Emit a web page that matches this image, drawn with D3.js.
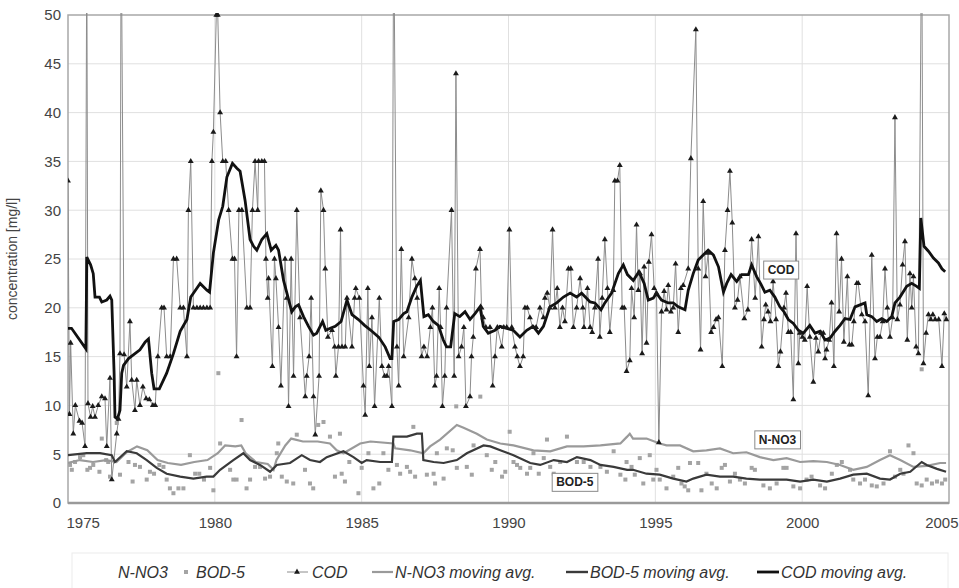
<!DOCTYPE html>
<html lang="en">
<head>
<meta charset="UTF-8">
<title>Concentration 1975-2005</title>
<style>
  body { margin: 0; background: #fff; }
  svg { font-family: "Liberation Sans", Arial, sans-serif; }
  .grid line { stroke: #e0e0e0; stroke-width: 1; }
  .axis text { fill: #444; font-size: 15px; }
  .cod-line { fill: none; stroke: #8c8c8c; stroke-width: 1; }
  .no3-avg { fill: none; stroke: #9a9a9a; stroke-width: 2.2; }
  .bod-avg { fill: none; stroke: #3a3a3a; stroke-width: 2.2; }
  .cod-avg { fill: none; stroke: #111; stroke-width: 2.8; }
  .note rect { fill: #fff; stroke: #8a8a8a; stroke-width: 1; }
  .note text { font-size: 12px; font-weight: bold; fill: #222; }
  .legend text { font-size: 16px; font-style: italic; fill: #333; }
</style>
</head>
<body>
<svg width="959" height="588"></svg>
<script src="https://d3js.org/d3.v7.min.js"></script>
<script>
// COD measurements [year, mg/l]
const codData = [
  [1975.00,33],[1975.05,9.1],[1975.09,16.4],[1975.18,7.1],[1975.25,10],[1975.39,8.4],[1975.48,8.2],[1975.58,5.8],
  [1975.64,58],[1975.68,10.2],[1975.77,8.8],[1975.84,9.9],[1975.92,8.8],[1976.03,10],[1976.15,10.9],[1976.26,10.7],
  [1976.32,5.8],[1976.43,12.8],[1976.49,2.4],[1976.66,7.1],[1976.72,8.6],[1976.77,15.3],[1976.81,60],[1976.91,15.2],
  [1977.00,11.9],[1977.11,18.6],[1977.17,12.6],[1977.28,9.5],[1977.34,12.6],[1977.45,10],[1977.55,11.9],[1977.66,10.7],
  [1977.77,10.6],[1977.89,10],[1977.97,10],[1978.06,15],[1978.19,20],[1978.27,20],[1978.36,15],[1978.48,15],
  [1978.59,25],[1978.70,25],[1978.82,20],[1978.93,20],[1979.05,15],[1979.10,30],[1979.18,35],[1979.27,20],
  [1979.39,20],[1979.50,20],[1979.61,20],[1979.73,20],[1979.84,20],[1979.90,35],[1979.95,38],[1980.05,50],
  [1980.10,50],[1980.18,40],[1980.27,35],[1980.37,35],[1980.47,30],[1980.60,25],[1980.67,25],[1980.74,15],
  [1980.82,30],[1980.92,30],[1981.09,20],[1981.20,20],[1981.28,30],[1981.37,35],[1981.46,30],[1981.49,35],
  [1981.60,35],[1981.69,35],[1981.74,25],[1981.80,21],[1981.83,23],[1981.96,14],[1982.03,25],[1982.08,23],
  [1982.17,18],[1982.25,12],[1982.39,25],[1982.45,21],[1982.51,9.9],[1982.60,25],[1982.68,13],[1982.79,30],
  [1982.90,19],[1983.08,10.9],[1983.13,13],[1983.21,15],[1983.28,21],[1983.36,10.9],[1983.42,7],[1983.55,13],
  [1983.61,32],[1983.70,30],[1983.76,24],[1983.85,17],[1983.99,17.7],[1984.08,16],[1984.12,13],[1984.21,16],
  [1984.28,28],[1984.33,16],[1984.44,16],[1984.50,21],[1984.67,16],[1984.76,21],[1984.80,22],[1984.92,21],
  [1985.06,12],[1985.12,9],[1985.21,22],[1985.26,14],[1985.35,19],[1985.44,9.9],[1985.60,21],[1985.69,14],
  [1985.78,13],[1985.86,13],[1985.92,14],[1986.03,9.9],[1986.09,60],[1986.20,16],[1986.26,12],[1986.35,26],
  [1986.43,15],[1986.60,19],[1986.71,25],[1986.81,23],[1986.89,21],[1987.04,15],[1987.12,16],[1987.23,15],
  [1987.34,18],[1987.41,20],[1987.49,12],[1987.55,13],[1987.64,22],[1987.69,18],[1987.75,9.9],[1987.83,13],
  [1987.89,20],[1988.06,30],[1988.15,13],[1988.21,44],[1988.30,15],[1988.40,16],[1988.48,18],[1988.55,9.9],
  [1988.69,10.9],[1988.74,15],[1988.80,17],[1988.89,24],[1989.03,26],[1989.08,20],[1989.14,19],[1989.23,18],
  [1989.37,18],[1989.46,12],[1989.54,15],[1989.62,18],[1989.77,16],[1989.84,18],[1989.94,18],[1990.03,28],
  [1990.11,18],[1990.22,16],[1990.30,15],[1990.39,14],[1990.50,15],[1990.56,20],[1990.64,20],[1990.73,19],
  [1990.82,18],[1990.94,18],[1991.07,20],[1991.19,19],[1991.24,21],[1991.32,21.5],[1991.41,20],[1991.50,28],
  [1991.58,20],[1991.66,22],[1991.75,18],[1991.84,20],[1991.92,18.6],[1992.04,24],[1992.12,24],[1992.21,18],
  [1992.32,20],[1992.44,23],[1992.53,20],[1992.57,18],[1992.69,22],[1992.78,18],[1992.85,17.5],[1992.94,20],
  [1993.05,25],[1993.11,17],[1993.19,21],[1993.28,27],[1993.37,22],[1993.45,17.5],[1993.57,21.8],[1993.62,33],
  [1993.71,33],[1993.79,34.6],[1993.87,20],[1993.94,20],[1994.02,13.5],[1994.13,14.6],[1994.19,22],[1994.28,19],
  [1994.36,28.5],[1994.42,21.8],[1994.48,23.5],[1994.55,15.3],[1994.62,24.2],[1994.70,16.4],[1994.78,24.7],[1994.87,27.5],
  [1994.96,22],[1995.04,21.5],[1995.12,6.2],[1995.21,19.6],[1995.30,21.7],[1995.38,19.8],[1995.44,22.3],[1995.53,19.6],
  [1995.61,20],[1995.69,24.5],[1995.78,17.5],[1995.87,22],[1995.95,22.3],[1996.12,24],[1996.21,35.3],[1996.38,48.5],
  [1996.46,24],[1996.54,15.7],[1996.63,30.9],[1996.71,23.2],[1996.80,25.6],[1996.90,17.5],[1996.98,18],[1997.07,18.8],
  [1997.15,19],[1997.28,14],[1997.37,25.9],[1997.46,30],[1997.54,34],[1997.62,28.7],[1997.71,20],[1997.80,20.8],
  [1997.88,23.2],[1998.03,18.9],[1998.15,19.8],[1998.28,27],[1998.40,21],[1998.51,27.3],[1998.62,16],[1998.70,18.8],
  [1998.76,20.3],[1998.84,19.6],[1998.92,18.6],[1999.01,22.7],[1999.11,18.8],[1999.19,14],[1999.26,15.5],[1999.38,20],
  [1999.45,21.5],[1999.53,17.5],[1999.61,17.5],[1999.70,10.6],[1999.79,27.6],[1999.87,14.3],[1999.92,17.4],[2000.01,17],
  [2000.09,16.7],[2000.17,22.2],[2000.26,17],[2000.38,12.4],[2000.47,16.9],[2000.55,15.5],[2000.64,17.4],[2000.72,17.4],
  [2000.78,14.8],[2000.83,15.7],[2000.92,16.7],[2001.00,20.5],[2001.08,14],[2001.17,27.6],[2001.26,19.6],[2001.34,25],
  [2001.42,16.5],[2001.54,23.2],[2001.61,16.2],[2001.69,16.2],[2001.76,18.6],[2001.86,22.5],[2001.91,22.5],[2002.03,19.3],
  [2002.14,18.6],[2002.25,11],[2002.37,25.4],[2002.48,14.8],[2002.56,17],[2002.65,17],[2002.74,18.6],[2002.82,24],
  [2002.90,20],[2002.99,17],[2003.08,19],[2003.16,39.5],[2003.24,18.8],[2003.33,20.3],[2003.42,24.4],[2003.50,26.8],
  [2003.58,16.7],[2003.67,23.5],[2003.73,20],[2003.79,23.2],[2003.88,16],[2003.96,15.3],[2004.07,60],[2004.13,14.3],
  [2004.22,17.4],[2004.30,19.3],[2004.38,18.8],[2004.45,19.3],[2004.53,18.8],[2004.65,18.8],[2004.76,14],[2004.84,19.4],
  [2004.91,18.8]
];

// BOD-5 measurements [year, mg/l]
const bodData = [
  [1975.07,3.9],[1975.13,3.4],[1975.24,4.2],[1975.41,4.7],[1975.52,4.9],[1975.66,3.4],[1975.75,3.6],[1975.86,3.9],
  [1976.07,3.2],[1976.15,6.6],[1976.30,4.4],[1976.37,4.2],[1976.43,2.7],[1976.66,8.2],[1976.77,2.9],[1977.06,4.2],
  [1977.20,2.2],[1977.28,3.9],[1977.45,3.7],[1977.68,2.4],[1977.79,3.2],[1977.93,3.0],[1978.11,3.9],[1978.25,3.7],
  [1978.36,2.4],[1978.47,1.5],[1978.59,1.0],[1978.76,1.5],[1978.93,1.5],[1979.15,4.9],[1979.33,3.0],[1979.47,3.0],
  [1979.63,2.4],[1979.84,3.6],[1979.95,1.3],[1980.12,13.3],[1980.18,6.1],[1980.52,3.4],[1980.63,2.4],[1980.74,2.4],
  [1980.91,8.5],[1981.08,1.5],[1981.20,2.4],[1981.37,3.7],[1981.54,3.7],[1981.71,2.5],[1981.88,2.7],[1982.11,5.1],
  [1982.16,6.1],[1982.28,2.7],[1982.45,2.2],[1982.67,2.0],[1982.79,7.0],[1983.07,3.4],[1983.24,2.0],[1983.35,1.5],
  [1983.52,8.0],[1983.70,8.3],[1983.92,6.8],[1984.09,2.7],[1984.26,7.1],[1984.32,3.0],[1984.43,2.2],[1984.58,4.2],
  [1984.89,1.0],[1985.00,3.6],[1985.23,5.1],[1985.40,1.5],[1985.60,2.0],[1985.74,5.1],[1985.91,3.4],[1986.20,3.9],
  [1986.31,3.0],[1986.54,3.7],[1986.65,3.2],[1986.76,7.8],[1986.82,2.7],[1987.22,2.9],[1987.45,3.0],[1987.50,2.0],
  [1987.56,5.1],[1987.79,2.5],[1987.90,5.6],[1988.10,5.4],[1988.22,9.9],[1988.24,3.6],[1988.58,3.7],[1988.75,2.9],
  [1988.81,5.9],[1989.04,10.9],[1989.26,4.9],[1989.43,3.4],[1989.55,4.2],[1989.78,2.7],[1989.89,3.2],[1990.04,7.3],
  [1990.17,4.2],[1990.29,3.9],[1990.40,3.6],[1990.63,3.0],[1990.74,3.6],[1990.85,5.1],[1991.03,3.0],[1991.20,4.6],
  [1991.31,6.5],[1991.42,3.7],[1991.54,3.0],[1991.76,4.2],[1991.99,6.8],[1992.33,4.2],[1992.56,4.2],[1992.79,3.7],
  [1993.13,3.7],[1993.35,3.2],[1993.58,5.3],[1993.81,2.9],[1993.98,2.4],[1994.02,4.2],[1994.19,3.7],[1994.30,2.9],
  [1994.47,4.6],[1994.59,2.0],[1994.81,4.9],[1994.93,2.4],[1995.04,3.4],[1995.15,2.4],[1995.38,1.5],[1995.61,2.7],
  [1995.78,3.6],[1995.89,2.0],[1996.00,1.7],[1996.12,1.3],[1996.18,4.1],[1996.46,4.1],[1996.57,1.3],[1996.74,3.0],
  [1996.92,2.0],[1997.09,1.5],[1997.26,3.6],[1997.37,3.9],[1997.54,2.2],[1997.71,3.0],[1997.88,2.4],[1998.05,2.0],
  [1998.28,3.6],[1998.39,3.4],[1998.68,1.8],[1998.90,1.5],[1999.13,2.0],[1999.36,3.6],[1999.47,3.6],[1999.70,1.7],
  [1999.93,1.5],[2000.15,2.4],[2000.32,2.7],[2000.61,1.8],[2000.78,1.5],[2001.01,3.0],[2001.18,3.9],[2001.35,4.2],
  [2001.63,3.4],[2001.74,2.4],[2001.97,2.0],[2002.14,2.4],[2002.37,1.8],[2002.54,1.7],[2002.77,2.0],[2002.99,5.3],
  [2003.16,2.7],[2003.34,3.4],[2003.45,3.0],[2003.62,5.9],[2003.79,5.1],[2003.90,2.0],[2004.07,13.7],[2004.07,1.8],
  [2004.24,2.4],[2004.42,2.0],[2004.59,2.2],[2004.76,2.0],[2004.87,2.4]
];

// moving averages [year, mg/l]
const no3Avg = [
  [1975.0,4.1],[1975.4,4.4],[1975.85,4.2],[1976.3,4.4],[1976.65,4.2],[1977.0,5.2],[1977.35,5.8],[1977.7,5.4],
  [1978.05,4.4],[1978.4,4.1],[1978.85,3.9],[1979.3,4.2],[1979.75,4.4],[1980.1,5.1],[1980.35,5.9],[1980.7,5.8],
  [1980.9,5.9],[1981.05,5.1],[1981.4,4.2],[1981.8,4.0],[1982.0,3.4],[1982.1,4.4],[1982.4,5.9],[1982.6,6.6],
  [1983.0,6.3],[1983.5,6.3],[1983.92,6.1],[1984.15,5.4],[1984.38,5.1],[1984.95,6.1],[1985.3,6.3],[1986.08,6.1],
  [1986.14,5.6],[1986.65,5.4],[1987.1,5.1],[1987.33,5.8],[1987.67,6.5],[1988.24,8.0],[1988.47,7.7],[1988.92,7.1],
  [1989.26,6.5],[1989.72,6.1],[1990.17,5.9],[1990.85,5.4],[1991.42,5.3],[1991.99,5.8],[1992.56,5.8],[1993.13,5.9],
  [1993.81,6.1],[1994.04,6.8],[1994.13,7.1],[1994.24,6.6],[1994.7,6.6],[1995.15,6.1],[1995.38,5.9],[1995.84,5.9],
  [1996.29,5.3],[1996.74,5.4],[1997.2,5.6],[1997.65,5.1],[1998.1,5.2],[1998.56,4.7],[1999.02,4.4],[1999.47,4.6],
  [1999.93,4.2],[2000.38,4.3],[2000.84,4.2],[2001.29,3.9],[2001.74,3.4],[2002.2,3.7],[2002.65,4.4],[2002.99,4.9],
  [2003.34,4.4],[2003.79,3.7],[2004.24,3.8],[2004.7,4.1],[2004.9,4.1]
];

const bodAvg = [
  [1975.0,4.9],[1975.64,5.1],[1976.09,5.1],[1976.49,4.9],[1976.6,4.2],[1977.0,5.3],[1977.34,5.1],[1977.68,4.4],
  [1978.02,3.6],[1978.36,3.0],[1978.82,2.7],[1979.27,2.5],[1979.72,2.7],[1979.95,2.7],[1980.18,3.4],[1980.63,4.4],
  [1980.97,5.1],[1981.2,4.4],[1981.54,3.9],[1981.88,3.2],[1982.11,3.9],[1982.56,4.1],[1982.96,4.9],[1983.24,4.4],
  [1983.58,4.2],[1983.81,4.7],[1984.38,5.3],[1984.72,4.7],[1985.0,4.1],[1985.17,4.4],[1985.63,4.2],[1986.03,4.2],
  [1986.08,6.8],[1986.54,6.8],[1986.88,7.1],[1987.05,7.1],[1987.1,4.4],[1987.45,4.2],[1987.79,4.1],[1988.24,4.4],
  [1988.58,5.1],[1989.15,5.9],[1989.38,5.8],[1989.72,5.4],[1990.17,4.9],[1990.74,4.1],[1991.08,3.9],[1991.54,4.4],
  [1991.99,4.2],[1992.33,4.7],[1992.79,4.4],[1993.13,3.9],[1993.58,3.7],[1994.04,3.4],[1994.24,3.4],[1994.7,3.0],
  [1995.15,2.9],[1995.61,2.5],[1996.06,2.2],[1996.29,2.5],[1996.74,2.9],[1997.2,2.7],[1997.65,2.7],[1998.1,2.5],
  [1998.56,2.4],[1999.02,2.4],[1999.47,2.4],[1999.93,2.2],[2000.38,2.4],[2000.84,2.2],[2001.29,2.5],[2001.74,2.9],
  [2002.2,3.0],[2002.65,2.5],[2002.99,2.4],[2003.34,3.0],[2003.68,3.2],[2004.07,4.2],[2004.24,3.9],[2004.59,3.5],
  [2004.9,3.2]
];

const codAvg = [
  [1975.0,17.9],[1975.12,17.9],[1975.61,15.8],[1975.64,25.2],[1975.77,24.4],[1975.86,23.5],[1975.92,21.1],[1976.07,21.1],
  [1976.15,20.6],[1976.32,20.8],[1976.43,21.2],[1976.49,20.8],[1976.57,13.3],[1976.6,8.8],[1976.68,8.6],[1976.77,9.5],
  [1976.83,13.3],[1976.89,14.1],[1977.06,14.8],[1977.28,15.3],[1977.45,15.7],[1977.63,16.5],[1977.74,16.8],[1977.85,13.3],
  [1977.93,11.7],[1978.11,11.7],[1978.36,13.3],[1978.59,15.3],[1978.82,17.6],[1979.05,18.8],[1979.18,21.1],[1979.27,21.5],
  [1979.5,22.5],[1979.73,21.8],[1979.82,21.6],[1979.95,25.6],[1980.13,29.0],[1980.27,30.4],[1980.41,33.4],[1980.6,34.8],
  [1980.75,34.3],[1980.86,34.0],[1981.03,31.0],[1981.2,27.0],[1981.32,26.3],[1981.43,25.9],[1981.6,27.0],[1981.77,27.6],
  [1981.92,25.9],[1982.08,26.4],[1982.17,25.9],[1982.34,22.8],[1982.49,21.1],[1982.62,19.6],[1982.74,20.1],[1982.85,20.3],
  [1983.02,19.1],[1983.19,18.1],[1983.36,17.2],[1983.47,17.4],[1983.67,18.6],[1983.78,17.7],[1983.93,17.9],[1984.1,18.1],
  [1984.3,18.6],[1984.5,20.8],[1984.67,19.3],[1984.89,18.8],[1985.1,18.2],[1985.35,17.6],[1985.58,17.0],[1985.8,16.0],
  [1985.97,14.8],[1986.03,14.8],[1986.09,18.6],[1986.26,18.8],[1986.43,19.4],[1986.54,19.6],[1986.71,21.1],[1986.87,22.2],
  [1987.0,22.8],[1987.12,19.1],[1987.27,19.3],[1987.44,18.6],[1987.61,18.2],[1987.78,16.7],[1987.89,16.0],[1988.03,16.0],
  [1988.17,19.4],[1988.34,19.1],[1988.52,19.6],[1988.69,18.8],[1988.86,19.4],[1989.03,20.1],[1989.14,18.1],[1989.31,17.4],
  [1989.54,17.7],[1989.71,18.1],[1989.94,17.9],[1990.16,17.7],[1990.39,17.0],[1990.62,17.7],[1990.84,18.1],[1991.02,17.4],
  [1991.19,18.1],[1991.41,20.1],[1991.64,20.5],[1991.87,21.1],[1992.1,21.5],[1992.32,21.1],[1992.49,21.5],[1992.78,20.6],
  [1992.94,20.5],[1993.15,19.8],[1993.28,20.5],[1993.51,21.5],[1993.74,23.5],[1993.91,24.4],[1994.05,23.4],[1994.25,22.8],
  [1994.44,23.7],[1994.62,22.5],[1994.76,20.8],[1994.93,21.0],[1995.04,21.5],[1995.21,20.8],[1995.44,20.5],[1995.61,20.5],
  [1995.78,20.1],[1996.01,19.8],[1996.12,21.8],[1996.29,23.5],[1996.46,24.9],[1996.63,25.4],[1996.8,25.9],[1996.98,25.4],
  [1997.15,24.2],[1997.32,21.6],[1997.43,22.5],[1997.58,23.4],[1997.77,22.7],[1997.94,23.4],[1998.17,23.4],[1998.28,24.4],
  [1998.45,23.2],[1998.6,22.4],[1998.73,21.6],[1998.9,21.8],[1999.07,21.1],[1999.24,20.1],[1999.38,19.6],[1999.53,18.8],
  [1999.7,18.4],[1999.87,17.7],[2000.04,17.4],[2000.26,18.2],[2000.44,17.4],[2000.61,17.6],[2000.78,16.7],[2000.95,16.9],
  [2001.12,17.6],[2001.29,18.2],[2001.46,18.9],[2001.63,18.8],[2001.8,20.1],[2001.97,20.3],[2002.14,20.5],[2002.2,19.3],
  [2002.37,19.1],[2002.54,18.6],[2002.71,18.9],[2002.88,18.6],[2003.05,19.1],[2003.16,20.5],[2003.33,21.1],[2003.56,22.2],
  [2003.73,22.5],[2003.9,22.2],[2003.99,22.0],[2004.04,29.2],[2004.15,26.3],[2004.3,25.8],[2004.47,25.1],[2004.64,24.6],
  [2004.76,24.0],[2004.87,23.7]
];

const yTicks = [0, 5, 10, 15, 20, 25, 30, 35, 40, 45, 50];
const xTicks = [1975, 1980, 1985, 1990, 1995, 2000, 2005];
const gridYears = [1980, 1985, 1990, 1995, 2000];
const legendLabels = ["N-NO3", "BOD-5", "COD", "N-NO3 moving avg.", "BOD-5 moving avg.", "COD moving avg."];
const notes = [
  { text: "COD", year: 1999.28, value: 23.9 },
  { text: "N-NO3", year: 1999.16, value: 6.5 },
  { text: "BOD-5", year: 1992.26, value: 2.15 }
];

const plotLeft = 68, plotRight = 949, plotTop = 15, plotBottom = 503;
const svg = d3.select("svg");

const x = d3.scaleLinear().domain([1975, 2005]).range([plotLeft, plotRight]);
const y = d3.scaleLinear().domain([0, 50]).range([plotBottom, plotTop]);

// grid
const grid = svg.append("g").attr("class", "grid");
grid.selectAll(".gy")
  .data(yTicks.filter(d => d > 0 && d < 50))
  .enter().append("line")
  .attr("x1", plotLeft).attr("x2", plotRight)
  .attr("y1", d => y(d)).attr("y2", d => y(d));
grid.selectAll(".gx")
  .data(gridYears)
  .enter().append("line")
  .attr("x1", d => x(d)).attr("x2", d => x(d))
  .attr("y1", plotTop).attr("y2", plotBottom);

// frame
svg.append("rect")
  .attr("x", plotLeft).attr("y", plotTop)
  .attr("width", plotRight - plotLeft).attr("height", plotBottom - plotTop)
  .attr("fill", "none").attr("stroke", "#a8a8a8").attr("stroke-width", 1.5);

// axes
const yAxis = svg.append("g").attr("class", "axis")
  .attr("transform", `translate(${plotLeft},0)`)
  .call(d3.axisLeft(y).tickValues(yTicks).tickSize(0).tickPadding(7));
yAxis.select(".domain").remove();

const xAxis = svg.append("g").attr("class", "axis")
  .attr("transform", `translate(0,${plotBottom})`)
  .call(d3.axisBottom(x).tickValues(xTicks).tickFormat(d3.format("d")).tickSize(0).tickPadding(14));
xAxis.select(".domain").remove();
xAxis.selectAll(".tick text").filter(d => d === 1975).attr("text-anchor", "start").attr("dx", -2);
// last label pushed to the right edge of the picture, as in the original
xAxis.selectAll(".tick text").filter(d => d === 2005).attr("text-anchor", "end").attr("dx", 958 - plotRight);

svg.append("line")
  .attr("x1", plotLeft).attr("x2", plotRight)
  .attr("y1", plotBottom).attr("y2", plotBottom)
  .attr("stroke", "#9a9a9a").attr("stroke-width", 2.5);

svg.append("text")
  .attr("transform", `translate(17,${(plotTop + plotBottom) / 2}) rotate(-90)`)
  .attr("text-anchor", "middle")
  .attr("font-size", 14).attr("fill", "#444")
  .text("concentration [mg/l]");

// data
svg.append("clipPath").attr("id", "plot")
  .append("rect").attr("x", plotLeft).attr("y", plotTop - 2)
  .attr("width", plotRight - plotLeft).attr("height", plotBottom - plotTop + 2);

const plot = svg.append("g").attr("clip-path", "url(#plot)");
const line = d3.line().x(d => x(d[0])).y(d => y(d[1]));

plot.append("path").datum(codData).attr("class", "cod-line").attr("d", line);

plot.selectAll(".bod")
  .data(bodData)
  .enter().append("rect")
  .attr("x", d => x(d[0]) - 2).attr("y", d => y(d[1]) - 2)
  .attr("width", 4).attr("height", 4)
  .attr("fill", "#a4a4a4");

plot.append("path").datum(no3Avg).attr("class", "no3-avg").attr("d", line);
plot.append("path").datum(bodAvg).attr("class", "bod-avg").attr("d", line);
plot.append("path").datum(codAvg).attr("class", "cod-avg").attr("d", line);

const tri = d3.symbol().type(d3.symbolTriangle).size(15);
plot.selectAll(".codpt")
  .data(codData)
  .enter().append("path")
  .attr("d", tri)
  .attr("transform", d => `translate(${x(d[0])},${y(d[1])})`)
  .attr("fill", "#1a1a1a");

// labels in boxes
const note = svg.selectAll(".note")
  .data(notes)
  .enter().append("g").attr("class", "note")
  .attr("transform", d => `translate(${x(d.year)},${y(d.value)})`);
note.append("text")
  .attr("text-anchor", "middle").attr("dy", "0.36em")
  .text(d => d.text);
note.each(function() {
  const g = d3.select(this);
  const b = g.select("text").node().getBBox();
  g.insert("rect", "text")
    .attr("x", b.x - 4).attr("y", b.y - 2)
    .attr("width", b.width + 8).attr("height", b.height + 4);
});

// legend
const ly = 572;
const legend = svg.append("g").attr("class", "legend");
legend.append("rect")
  .attr("x", 72).attr("y", 553).attr("width", 876).attr("height", 40)
  .attr("fill", "none").attr("stroke", "#ececec");

const lx = [118, 196, 312, 395, 590, 781];
legend.selectAll("text.lbl")
  .data(legendLabels)
  .enter().append("text")
  .attr("x", (d, i) => lx[i]).attr("y", ly).attr("dy", "0.35em")
  .text(d => d);

legend.append("rect").attr("x", 184).attr("y", ly - 2).attr("width", 4).attr("height", 4).attr("fill", "#a4a4a4");
legend.append("line").attr("x1", 287).attr("x2", 308).attr("y1", ly).attr("y2", ly)
  .attr("stroke", "#8c8c8c").attr("stroke-width", 1);
legend.append("path").attr("d", tri).attr("transform", `translate(297,${ly})`).attr("fill", "#1a1a1a");
legend.append("line").attr("x1", 372).attr("x2", 393).attr("y1", ly).attr("y2", ly)
  .attr("stroke", "#9a9a9a").attr("stroke-width", 2.2);
legend.append("line").attr("x1", 566).attr("x2", 588).attr("y1", ly).attr("y2", ly)
  .attr("stroke", "#3a3a3a").attr("stroke-width", 2.4);
legend.append("line").attr("x1", 757).attr("x2", 779).attr("y1", ly).attr("y2", ly)
  .attr("stroke", "#111").attr("stroke-width", 2.8);
</script>
</body>
</html>
